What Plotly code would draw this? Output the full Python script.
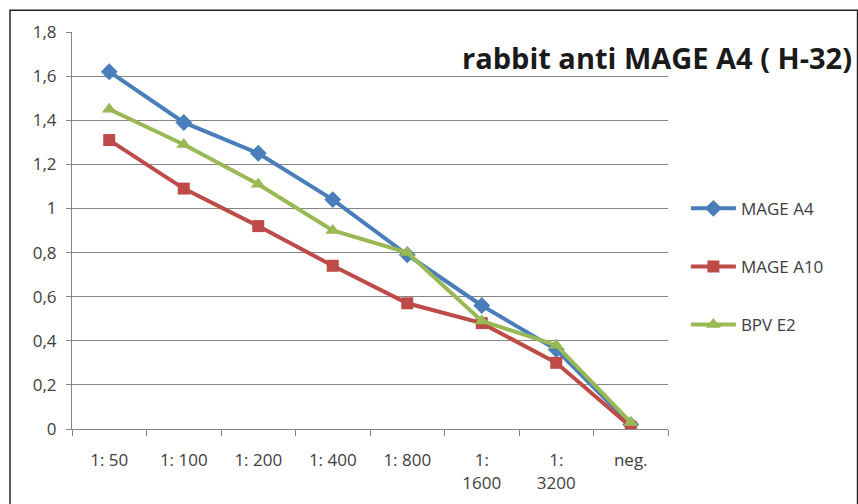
import plotly.graph_objects as go

categories = ["1: 50", "1: 100", "1: 200", "1: 400", "1: 800", "1:<br>1600", "1:<br>3200", "neg."]
mage_a4 = [1.62, 1.39, 1.25, 1.04, 0.79, 0.56, 0.36, 0.02]
mage_a10 = [1.31, 1.09, 0.92, 0.74, 0.57, 0.48, 0.30, 0.01]
bpv_e2 = [1.45, 1.29, 1.11, 0.90, 0.80, 0.49, 0.38, 0.03]
y_ticks = [0, 0.2, 0.4, 0.6, 0.8, 1.0, 1.2, 1.4, 1.6, 1.8]
y_labels = ["0", "0,2", "0,4", "0,6", "0,8", "1", "1,2", "1,4", "1,6", "1,8"]

series = [
    ("MAGE A4", mage_a4, "#4A7EBB", "diamond", 13),
    ("MAGE A10", mage_a10, "#BE4B48", "square", 12),
    ("BPV E2", bpv_e2, "#98B954", "triangle-up", 13),
]

fig = go.Figure()
for i, (name, vals, col, sym, size) in enumerate(series):
    fig.add_trace(go.Scatter(
        x=categories, y=vals, name=name, mode="lines+markers",
        line=dict(color=col, width=4),
        marker=dict(symbol=sym, size=size, color=col),
        legendgroup=f"g{i}",
    ))

fig.update_layout(
    width=858, height=504,
    margin=dict(l=72, r=190, t=32, b=75),
    paper_bgcolor="white", plot_bgcolor="white",
    font=dict(family="Open Sans, Liberation Sans, sans-serif", size=17, color="#404040"),
    showlegend=True,
    legend=dict(x=1.03, y=0.6, xanchor="left", yanchor="top",
                tracegroupgap=33, font=dict(size=17, color="#404040"),
                itemwidth=45),
    annotations=[dict(text="<b>rabbit anti MAGE A4 ( H-32)</b>", xref="paper", yref="paper",
                      x=1.312, y=0.935, xanchor="right", yanchor="middle", showarrow=False,
                      font=dict(family="Open Sans, Liberation Sans, sans-serif", size=29, color="#1a1a1a"))],
    shapes=[dict(type="rect", xref="paper", yref="paper", x0=-0.104, x1=1.318, y0=-0.2, y1=1.055,
                 line=dict(color="#222222", width=1.5))],
)
fig.update_xaxes(
    type="category", showgrid=False, showline=True, linecolor="#868686", linewidth=1,
    ticks="outside", ticklen=6, tickcolor="#868686", tickson="boundaries", automargin=False,
    range=[-0.5, 7.5], tickfont=dict(size=17, color="#404040"), ticklabelstandoff=16,
)
fig.update_yaxes(
    range=[0, 1.8], tickvals=y_ticks, ticktext=y_labels, showgrid=True, gridcolor="#868686",
    gridwidth=1, showline=True, linecolor="#868686", ticks="outside", ticklen=5,
    tickcolor="#868686", zeroline=False, tickfont=dict(size=17, color="#404040"),
    ticklabelstandoff=6, automargin=False,
)
fig.write_html("out.html")
